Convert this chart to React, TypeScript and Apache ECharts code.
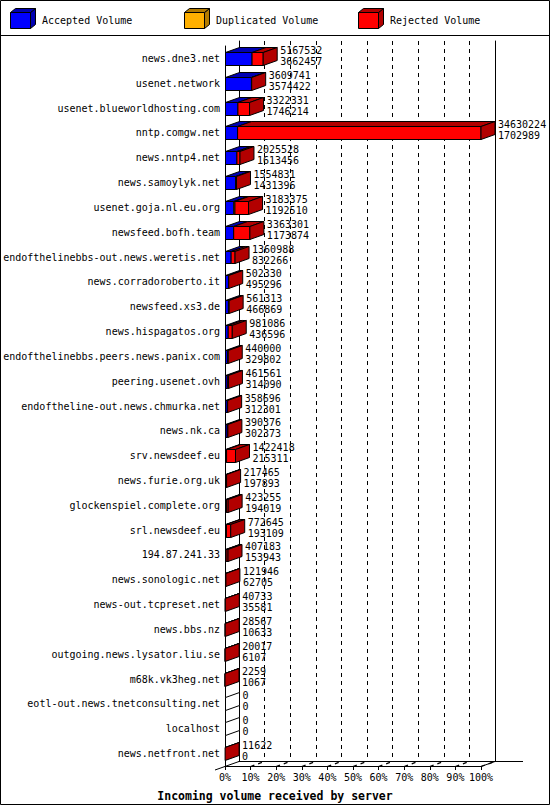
import { useEffect, useRef } from 'react';
import * as echarts from 'echarts';

const servers = [
  'news.dne3.net',
  'usenet.network',
  'usenet.blueworldhosting.com',
  'nntp.comgw.net',
  'news.nntp4.net',
  'news.samoylyk.net',
  'usenet.goja.nl.eu.org',
  'newsfeed.bofh.team',
  'endofthelinebbs-out.news.weretis.net',
  'news.corradoroberto.it',
  'newsfeed.xs3.de',
  'news.hispagatos.org',
  'endofthelinebbs.peers.news.panix.com',
  'peering.usenet.ovh',
  'endoftheline-out.news.chmurka.net',
  'news.nk.ca',
  'srv.newsdeef.eu',
  'news.furie.org.uk',
  'glockenspiel.complete.org',
  'srl.newsdeef.eu',
  '194.87.241.33',
  'news.sonologic.net',
  'news-out.tcpreset.net',
  'news.bbs.nz',
  'outgoing.news.lysator.liu.se',
  'm68k.vk3heg.net',
  'eotl-out.news.tnetconsulting.net',
  'localhost',
  'news.netfront.net',
];

const totalVolume = [
  5167532, 3609741, 3322331, 34630224, 2025528, 1554831, 3183375, 3363301,
  1360988, 502330, 561313, 981086, 440000, 461561, 358696, 390376, 1422418,
  217465, 423255, 772645, 407183, 121946, 40733, 28567, 20017, 2259, 0, 0, 11622,
];

const acceptedVolume = [
  3662457, 3574422, 1746214, 1702989, 1613456, 1431396, 1192510, 1173874,
  832266, 495296, 466869, 436596, 329802, 314090, 312301, 302373, 215311,
  197893, 194019, 193109, 153943, 62705, 35581, 10633, 6107, 1067, 0, 0, 0,
];

const duplicatedVolume = [
  0, 0, 0, 0, 0, 0, 150000, 0, 0, 0, 0, 0, 0, 0, 0, 0, 0, 0, 0, 0, 0, 0, 0,
  0, 0, 0, 0, 0, 0,
];

const rejectedVolume = [
  1505075, 35319, 1576117, 32927235, 412072, 123435, 1840865, 2189427,
  528722, 7034, 94444, 544490, 110198, 147471, 46395, 88003, 1207107, 19572,
  229236, 579536, 253240, 59241, 5152, 17934, 13910, 1192, 0, 0, 11622,
];

const percentLabels = ['0%', '10%', '20%', '30%', '40%', '50%', '60%', '70%', '80%', '90%', '100%'];
const legendNames = ['Accepted Volume', 'Duplicated Volume', 'Rejected Volume'];

const frontColors = ['#0000ff', '#ffb000', '#ff0000'];
const shadeColors = ['#0000b2', '#b27b00', '#b20000'];

const FONT = "'DejaVu Sans Mono', monospace";
const DX = 14;
const DY = -5;

function App() {
  const chartRef = useRef<HTMLDivElement>(null);

  useEffect(() => {
    if (!chartRef.current) return;
    const chart = echarts.init(chartRef.current, null, { renderer: 'svg' });
    const xMax = Math.max(...totalVolume);

    const rows = servers.map((_, i) => [
      i,
      acceptedVolume[i],
      duplicatedVolume[i],
      rejectedVolume[i],
      totalVolume[i],
    ]);

    const px = (v: number) => Math.round(v) + 0.5;

    const legendGraphics: any[] = [];
    legendNames.forEach((name, i) => {
      const x = 10 + i * 174;
      legendGraphics.push(
        {
          type: 'polygon',
          shape: { points: [[x + 20.5, 12.5], [x + 25.5, 8.5], [x + 25.5, 24.5], [x + 20.5, 28.5]] },
          style: { fill: shadeColors[i], stroke: '#000', lineWidth: 1 },
        },
        {
          type: 'polygon',
          shape: { points: [[x + 0.5, 12.5], [x + 5.5, 8.5], [x + 25.5, 8.5], [x + 20.5, 12.5]] },
          style: { fill: shadeColors[i], stroke: '#000', lineWidth: 1 },
        },
        {
          type: 'rect',
          shape: { x: x + 0.5, y: 12.5, width: 20, height: 16 },
          style: { fill: frontColors[i], stroke: '#000', lineWidth: 1 },
        },
        {
          type: 'text',
          x: x + 32,
          y: 20,
          style: { text: name, fill: '#000', font: `10px ${FONT}`, verticalAlign: 'middle' },
        }
      );
    });

    // short dashed depth marks running from each front tick towards the back plane
    const depthTicks: any[] = percentLabels.slice(1).map((_, k) => {
      const x = 225 + ((k + 1) * 256) / 10;
      return {
        type: 'line',
        shape: { x1: x, y1: 766.5, x2: x + DX, y2: 766.5 + DY },
        style: { stroke: '#000', lineWidth: 1.3, lineDash: [4, 4] },
      };
    });

    chart.setOption({
      animation: false,
      backgroundColor: '#fff',
      title: {
        text: 'Incoming volume received by server',
        left: 'center',
        top: 785,
        textStyle: { fontFamily: FONT, fontSize: 11.5, fontWeight: 'bold', color: '#000' },
      },
      grid: [
        { left: 225, top: 46, width: 256, height: 720 },
        { left: 239, top: 41, width: 256, height: 720 },
      ],
      xAxis: [
        {
          gridIndex: 0,
          type: 'value',
          min: 0,
          max: xMax,
          interval: xMax / 10,
          axisLine: { show: true, lineStyle: { color: '#000', width: 1 } },
          axisTick: { show: true, length: 4, lineStyle: { color: '#000' } },
          axisLabel: {
            formatter: (_v: number, i: number) => percentLabels[i],
            fontFamily: FONT,
            fontSize: 10,
            color: '#000',
            margin: 6,
          },
          splitLine: { show: false },
        },
        {
          gridIndex: 1,
          type: 'value',
          min: 0,
          max: xMax,
          interval: xMax / 10,
          axisLine: { show: true, lineStyle: { color: '#000', width: 1 } },
          axisTick: { show: false },
          axisLabel: { show: false },
          splitLine: { show: true, lineStyle: { color: '#000', type: [4, 4], width: 1 } },
        },
      ],
      yAxis: [
        {
          gridIndex: 0,
          type: 'category',
          data: servers,
          inverse: true,
          axisLine: { show: true, lineStyle: { color: '#000', width: 1 } },
          axisTick: { show: false },
          axisLabel: { fontFamily: FONT, fontSize: 10, color: '#000', margin: 5, interval: 0 },
        },
        {
          gridIndex: 1,
          type: 'category',
          data: servers,
          inverse: true,
          position: 'left',
          axisLine: { show: true, lineStyle: { color: '#000', width: 1 } },
          axisTick: { show: false },
          axisLabel: { show: false },
        },
        {
          gridIndex: 1,
          type: 'category',
          data: servers,
          inverse: true,
          position: 'right',
          axisLine: { show: true, lineStyle: { color: '#000', width: 1 } },
          axisTick: { show: false },
          axisLabel: { show: false },
        },
      ],
      series: [
        {
          type: 'custom',
          xAxisIndex: 0,
          yAxisIndex: 0,
          encode: { x: [1, 2, 3], y: 0 },
          data: rows,
          z: 5,
          renderItem: (_params: any, api: any) => {
            const row = api.value(0);
            const vals = [api.value(1), api.value(2), api.value(3)];
            const base = api.coord([0, row]);
            const h = api.size([0, 1])[1] * 0.52;
            const top = px(base[1] - h / 2);
            const bottom = px(base[1] + h / 2);
            const children: any[] = [];
            let sum = 0;
            let x0 = px(base[0]);
            let last = -1;
            const fronts: any[] = [];
            const tops: any[] = [];
            vals.forEach((v: number, i: number) => {
              if (v <= 0) return;
              sum += v;
              const x1 = api.coord([sum, row])[0];
              fronts.push({
                type: 'rect',
                shape: { x: x0, y: top, width: Math.max(x1 - x0, 0), height: bottom - top },
                style: { fill: frontColors[i], stroke: '#000', lineWidth: 1 },
              });
              tops.push({
                type: 'polygon',
                shape: { points: [[x0, top], [x1, top], [x1 + DX, top + DY], [x0 + DX, top + DY]] },
                style: { fill: shadeColors[i], stroke: '#000', lineWidth: 1 },
              });
              x0 = x1;
              last = i;
            });
            children.push(...tops, ...fronts);
            children.push({
              type: 'polygon',
              shape: {
                points: [[x0, top], [x0 + DX, top + DY], [x0 + DX, bottom + DY], [x0, bottom]],
              },
              style: { fill: last >= 0 ? shadeColors[last] : '#fff', stroke: '#000', lineWidth: 1 },
            });
            children.push({
              type: 'text',
              x: x0 + 17,
              y: base[1] - 2.5,
              style: {
                text: `${totalVolume[row]}\n${acceptedVolume[row]}`,
                fill: '#000',
                fontFamily: FONT,
                fontSize: 10,
                lineHeight: 11,
                verticalAlign: 'middle',
                align: 'left',
              },
            });
            return { type: 'group', children };
          },
        },
      ],
      graphic: [
        {
          type: 'rect',
          shape: { x: 0.5, y: 0.5, width: 549, height: 804 },
          style: { fill: 'none', stroke: '#000', lineWidth: 1 },
        },
        {
          type: 'line',
          shape: { x1: 0, y1: 35.5, x2: 550, y2: 35.5 },
          style: { stroke: '#000', lineWidth: 1 },
        },
        {
          type: 'line',
          shape: { x1: 495, y1: 761.5, x2: 523, y2: 761.5 },
          style: { stroke: '#000', lineWidth: 1 },
        },
        {
          type: 'line',
          shape: { x1: 481, y1: 766.5, x2: 495, y2: 761.5 },
          style: { stroke: '#000', lineWidth: 1 },
        },
        {
          type: 'line',
          shape: { x1: 215, y1: 770, x2: 239, y2: 761.5 },
          style: { stroke: '#000', lineWidth: 1 },
        },
        ...depthTicks,
        ...legendGraphics,
      ],
    });

    return () => chart.dispose();
  }, []);

  return (
    <div
      ref={chartRef}
      style={{ position: 'absolute', left: 0, top: 0, width: '550px', height: '805px' }}
    />
  );
}

export default App;
